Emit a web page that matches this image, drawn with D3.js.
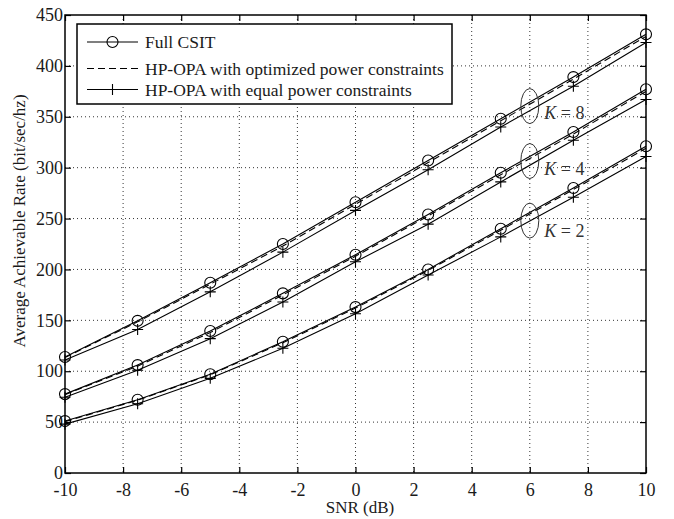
<!DOCTYPE html>
<meta charset="utf-8">
<style>
  body { margin: 0; background: #fff; }
  text { font-family: "Liberation Serif", "Times New Roman", serif; }
  .grid line { stroke: #000; stroke-width: 0.8; stroke-dasharray: 1,3; }
  .axis text { font-family: "Liberation Serif", "Times New Roman", serif; font-size: 18px; fill: #1a1a1a; }
  .axis line { stroke: #000; stroke-width: 1.2; }
  .axis path { display: none; }
</style>
<svg width="674" height="519"></svg>
<script src="https://d3js.org/d3.v7.min.js"></script>
<script>
// chart data
var snr = [-10, -7.5, -5, -2.5, 0, 2.5, 5, 7.5, 10];

var full_k8 = [114, 149.5, 187, 225, 266, 307, 348, 389, 431];
var opt_k8  = [113.5, 148.5, 185.5, 223, 264, 305, 346, 387, 429];
var eq_k8   = [111, 141, 178, 217, 258, 298, 340, 380, 423];

var full_k4 = [77.5, 106, 139.5, 176.5, 214.5, 254, 295, 335, 377];
var opt_k4  = [77, 105, 138, 175, 213, 252.5, 293, 333, 375];
var eq_k4   = [74.5, 101, 132, 168, 207.5, 244.5, 286, 327, 367];

var full_k2 = [51, 72, 97, 129, 163, 200, 240, 280, 321];
var opt_k2  = [50.5, 71.5, 96.5, 128, 162, 199, 238.5, 278.5, 319];
var eq_k2   = [48, 68, 93, 122.5, 156.5, 194.5, 232, 271, 311];

var x_ticks = [-10, -8, -6, -4, -2, 0, 2, 4, 6, 8, 10];
var y_ticks = [0, 50, 100, 150, 200, 250, 300, 350, 400, 450];

var legend_names = ["Full CSIT", "HP-OPA with optimized power constraints", "HP-OPA with equal power constraints"];
var k_labels = ["8", "4", "2"];
var k_label_pos = [[6.5, 348], [6.5, 292.5], [6.5, 231.5]];
var k_ellipse_pos = [[6, 360.5], [6, 306.5], [6, 248]];

var svg = d3.select("svg");
var margin = {left: 65, right: 28, top: 15, bottom: 46};
var width = +svg.attr("width") - margin.left - margin.right;
var height = +svg.attr("height") - margin.top - margin.bottom;

var g = svg.append("g").attr("transform", "translate(" + margin.left + "," + margin.top + ")");

var x = d3.scaleLinear().domain([-10, 10]).range([0, width]);
var y = d3.scaleLinear().domain([0, 450]).range([height, 0]);

// plain hyphen minus like the original figure
var fmt = function(d) { return String(d); };

// grid
g.append("g").attr("class", "grid")
  .selectAll("line").data(x_ticks.slice(1, -1)).enter().append("line")
  .attr("x1", function(d) { return x(d); }).attr("x2", function(d) { return x(d); })
  .attr("y1", 0).attr("y2", height);
g.append("g").attr("class", "grid")
  .selectAll("line").data(y_ticks.slice(1, -1)).enter().append("line")
  .attr("y1", function(d) { return y(d); }).attr("y2", function(d) { return y(d); })
  .attr("x1", 0).attr("x2", width);

// axes, ticks pointing inward
g.append("g").attr("class", "axis").attr("transform", "translate(0," + height + ")")
  .call(d3.axisBottom(x).tickValues(x_ticks).tickFormat(fmt).tickSizeInner(-6).tickSizeOuter(0).tickPadding(10));
g.append("g").attr("class", "axis")
  .call(d3.axisTop(x).tickValues(x_ticks).tickSizeInner(-6).tickSizeOuter(0).tickFormat(""));
g.append("g").attr("class", "axis")
  .call(d3.axisLeft(y).tickValues(y_ticks).tickFormat(fmt).tickSizeInner(-6).tickSizeOuter(0).tickPadding(2));
g.append("g").attr("class", "axis").attr("transform", "translate(" + width + ",0)")
  .call(d3.axisRight(y).tickValues(y_ticks).tickSizeInner(-6).tickSizeOuter(0).tickFormat(""));

g.selectAll(".axis").attr("font-family", null).attr("font-size", null);

g.append("rect").attr("width", width).attr("height", height)
  .attr("fill", "none").attr("stroke", "#000").attr("stroke-width", 1.5);

// curves
var line = d3.line()
  .x(function(d, i) { return x(snr[i]); })
  .y(function(d) { return y(d); });

var curves = g.append("g");

function drawCurve(vals, type) {
  curves.append("path").datum(vals)
    .attr("d", line)
    .attr("fill", "none")
    .attr("stroke", "#000")
    .attr("stroke-width", 1.1)
    .attr("stroke-dasharray", type == "opt" ? "7,4" : null);
  if (type == "full") {
    curves.selectAll(null).data(vals).enter().append("circle")
      .attr("cx", function(d, i) { return x(snr[i]); })
      .attr("cy", function(d) { return y(d); })
      .attr("r", 5.5)
      .attr("fill", "none").attr("stroke", "#000").attr("stroke-width", 1.1);
  }
  if (type == "eq") {
    curves.selectAll(null).data(vals).enter().append("path")
      .attr("d", function(d, i) {
        var cx = x(snr[i]), cy = y(d);
        return "M" + (cx - 5.5) + "," + cy + "H" + (cx + 5.5) + "M" + cx + "," + (cy - 5.5) + "V" + (cy + 5.5);
      })
      .attr("stroke", "#000").attr("stroke-width", 1.1);
  }
}

drawCurve(full_k8, "full"); drawCurve(opt_k8, "opt"); drawCurve(eq_k8, "eq");
drawCurve(full_k4, "full"); drawCurve(opt_k4, "opt"); drawCurve(eq_k4, "eq");
drawCurve(full_k2, "full"); drawCurve(opt_k2, "opt"); drawCurve(eq_k2, "eq");

// K annotations
k_ellipse_pos.forEach(function(p) {
  g.append("ellipse").attr("cx", x(p[0])).attr("cy", y(p[1]))
    .attr("rx", 9).attr("ry", 17.5)
    .attr("fill", "none").attr("stroke", "#333").attr("stroke-width", 1);
});
k_labels.forEach(function(k, i) {
  var t = g.append("text").attr("x", x(k_label_pos[i][0])).attr("y", y(k_label_pos[i][1]))
    .attr("font-size", 18).attr("fill", "#333");
  t.append("tspan").attr("font-style", "italic").text("K");
  t.append("tspan").text(" = " + k);
});

// legend
var leg = svg.append("g").attr("transform", "translate(77,24)");
leg.append("rect").attr("width", 375).attr("height", 80)
  .attr("fill", "#fff").attr("stroke", "#000").attr("stroke-width", 1.5);
var leg_y = [18, 44.5, 65.5];
legend_names.forEach(function(name, i) {
  leg.append("line").attr("x1", 10).attr("x2", 61).attr("y1", leg_y[i]).attr("y2", leg_y[i])
    .attr("stroke", "#000").attr("stroke-width", 1.1)
    .attr("stroke-dasharray", i == 1 ? "7,4" : null);
  if (i == 0) {
    leg.append("circle").attr("cx", 35.5).attr("cy", leg_y[i]).attr("r", 5.5)
      .attr("fill", "none").attr("stroke", "#000").attr("stroke-width", 1.1);
  }
  if (i == 2) {
    leg.append("path").attr("d", "M30," + leg_y[i] + "H41M35.5," + (leg_y[i] - 5.5) + "V" + (leg_y[i] + 5.5))
      .attr("stroke", "#000").attr("stroke-width", 1.1);
  }
  leg.append("text").attr("x", 68).attr("y", leg_y[i]).attr("dy", "0.35em")
    .attr("font-size", 17.5).attr("fill", "#1a1a1a").text(name);
});

// axis titles
svg.append("text").attr("x", 360).attr("y", 513)
  .attr("text-anchor", "middle").attr("font-size", 17).attr("fill", "#1a1a1a").text("SNR (dB)");
svg.append("text").attr("transform", "translate(25,221) rotate(-90)")
  .attr("text-anchor", "middle").attr("font-size", 17).attr("fill", "#1a1a1a")
  .text("Average Achievable Rate (bit/sec/hz)");
</script>
